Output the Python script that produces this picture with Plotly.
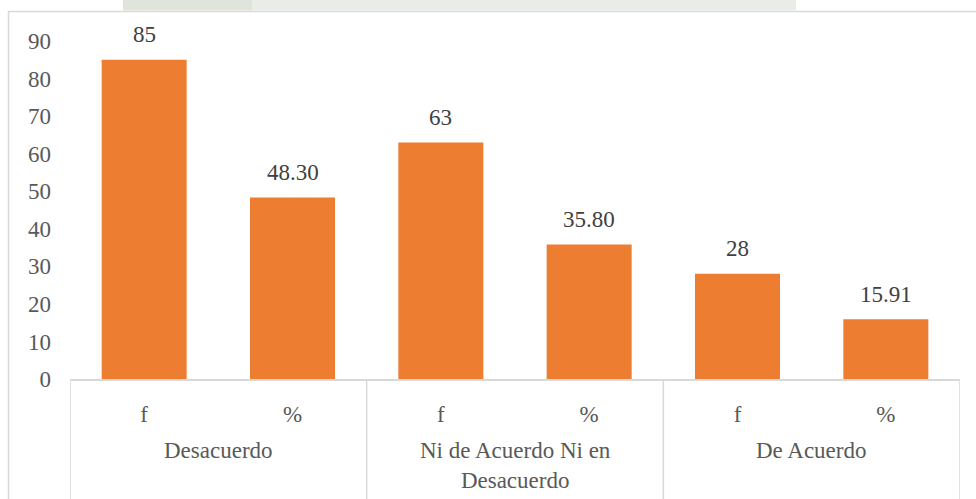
import plotly.graph_objects as go

# Survey answer groups, each with a frequency (f) and a percentage (%)
groups = ["Desacuerdo", "Ni de Acuerdo Ni en<br>Desacuerdo", "De Acuerdo"]
measures = ["f", "%"]
freq = [85, 63, 28]
pct = [48.30, 35.80, 15.91]
y_ticks = [0, 10, 20, 30, 40, 50, 60, 70, 80, 90]

BAR = "#ED7D31"
GRID = "#D9D9D9"
AXIS_TXT = "#595959"
LABEL_TXT = "#404040"
FONT = "Liberation Serif"

# Interleave f / % per group on one categorical positions axis
xs, ys, sub, labels = [], [], [], []
for i, g in enumerate(groups):
    for j, m in enumerate(measures):
        v = freq[i] if m == "f" else pct[i]
        xs.append(2 * i + j)
        ys.append(v)
        sub.append(m)
        labels.append(f"{v:.0f}" if m == "f" else f"{v:.2f}")

fig = go.Figure(
    go.Bar(x=xs, y=ys, marker=dict(color=BAR, line=dict(width=0)),
           hoverinfo="skip")
)

L, R, T, B = 70, 16, 41, 120
W, H = 976, 499
pw, ph = W - L - R, H - T - B

def px_x(p):
    return (p - L) / pw

def px_y(p):
    return (H - B - p) / ph

annotations = []
# Value labels above the bars
for x, y, t in zip(xs, ys, labels):
    annotations.append(dict(x=x, y=y, xref="x", yref="y", text=t,
                            showarrow=False, yanchor="middle", yshift=25,
                            font=dict(family=FONT, size=23, color=LABEL_TXT)))
# Outer group labels under the sub-categories
for i, g in enumerate(groups):
    annotations.append(dict(x=2 * i + 0.5, y=px_y(436), xref="x", yref="paper",
                            text=g, showarrow=False, yanchor="top",
                            font=dict(family=FONT, size=23, color=AXIS_TXT)))

shapes = []
# Group dividers below the category axis
for k in range(len(groups) + 1):
    shapes.append(dict(type="line", xref="x", yref="paper",
                       x0=2 * k - 0.5, x1=2 * k - 0.5, y0=0, y1=px_y(520),
                       line=dict(color=GRID, width=1.5)))
# Chart frame
shapes.append(dict(type="rect", xref="paper", yref="paper",
                   x0=px_x(8.5), x1=px_x(990), y0=px_y(11.5), y1=px_y(530),
                   line=dict(color=GRID, width=1.5), fillcolor="rgba(0,0,0,0)",
                   layer="below"))
# Faint seal printed behind the top of the frame
shapes.append(dict(type="rect", xref="paper", yref="paper",
                   x0=px_x(123), x1=px_x(252), y0=px_y(10.5), y1=px_y(0),
                   line=dict(width=0), fillcolor="#e0e5dc", layer="below"))
shapes.append(dict(type="rect", xref="paper", yref="paper",
                   x0=px_x(252), x1=px_x(796), y0=px_y(10.5), y1=px_y(0),
                   line=dict(width=0), fillcolor="#eaede7", layer="below"))

fig.update_layout(
    width=W, height=H,
    margin=dict(l=L, r=R, t=T, b=B),
    paper_bgcolor="white", plot_bgcolor="white",
    bargap=0.427,
    showlegend=False,
    font=dict(family=FONT, size=23, color=AXIS_TXT),
    annotations=annotations,
    shapes=shapes,
    xaxis=dict(range=[-0.5, 5.5], tickvals=xs, ticktext=sub,
               showline=True, linecolor=GRID, linewidth=1.5,
               showgrid=False, zeroline=False, ticks="",
               ticklabelstandoff=14,
               tickfont=dict(family=FONT, size=23, color=AXIS_TXT)),
    yaxis=dict(range=[0, 90], tickvals=y_ticks, showgrid=False,
               zeroline=False, showline=False, ticks="",
               ticklabelstandoff=18,
               tickfont=dict(family=FONT, size=23, color=AXIS_TXT)),
)

fig.write_html("out.html")
